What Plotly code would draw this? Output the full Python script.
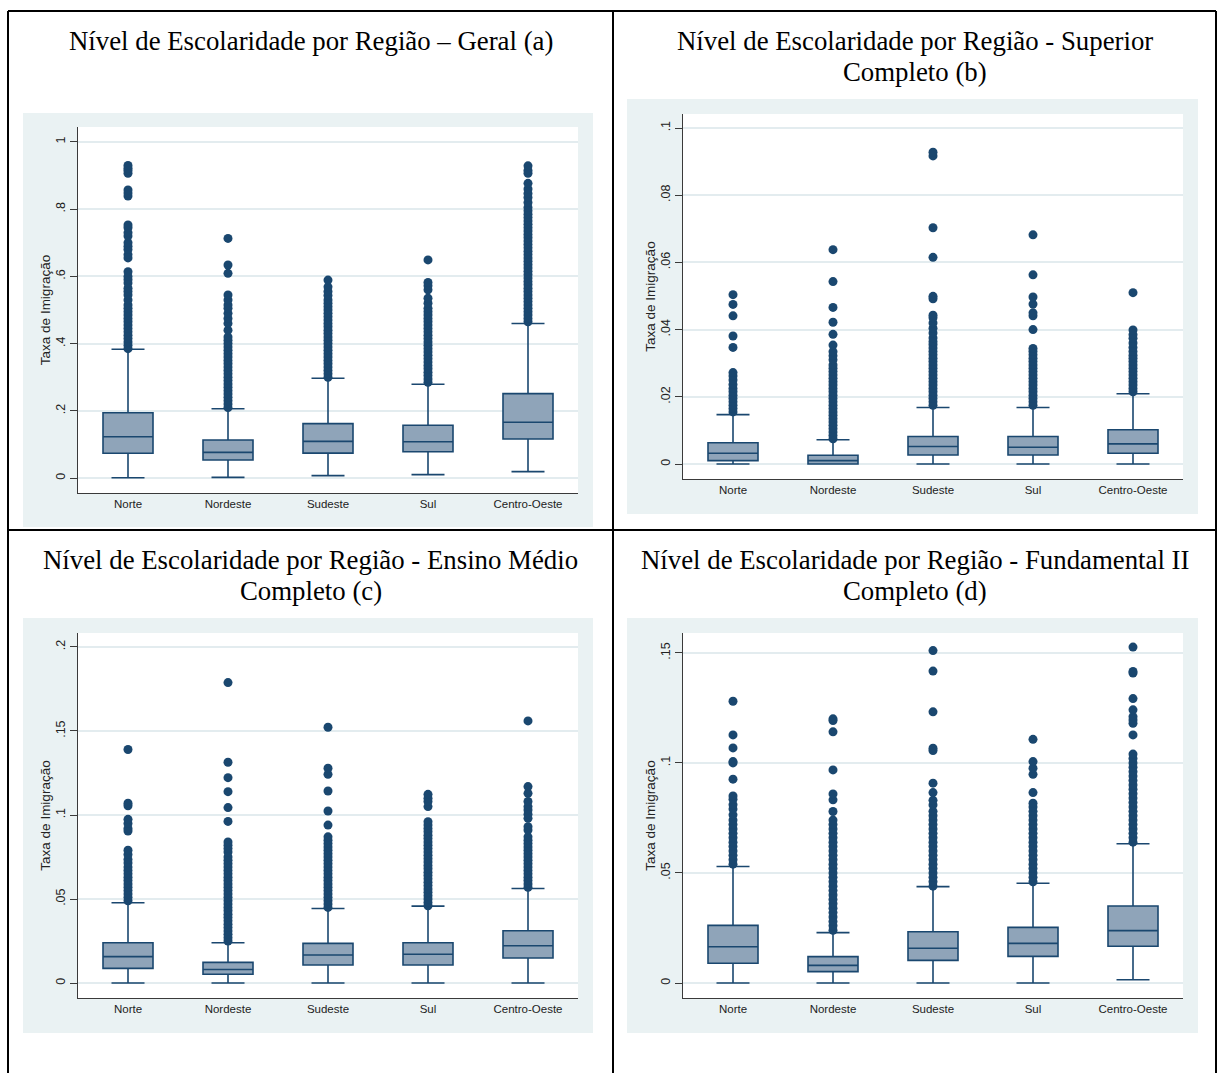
import plotly.graph_objects as go

W, H = 1218, 1073

regions = ["Norte", "Nordeste", "Sudeste", "Sul", "Centro-Oeste"]

# ---------------- Panel (a) Geral ----------------
a_lower = [0.001, 0.002, 0.007, 0.010, 0.019]
a_q1 = [0.0735, 0.0536, 0.074, 0.078, 0.116]
a_median = [0.123, 0.0764, 0.109, 0.108, 0.166]
a_q3 = [0.194, 0.113, 0.162, 0.157, 0.251]
a_upper = [0.383, 0.206, 0.297, 0.279, 0.460]
a_out_norte = [0.385, 0.395, 0.405, 0.415, 0.425, 0.435, 0.445, 0.455, 0.465, 0.475,
               0.485, 0.495, 0.505, 0.515, 0.53, 0.545, 0.555, 0.565, 0.58, 0.59,
               0.60, 0.614, 0.655, 0.665, 0.68, 0.69, 0.70, 0.72, 0.73, 0.745, 0.753,
               0.839, 0.848, 0.857, 0.907, 0.915, 0.922, 0.93]
a_out_nordeste = [0.21, 0.22, 0.23, 0.24, 0.25, 0.26, 0.27, 0.28, 0.29, 0.30, 0.31,
                  0.32, 0.33, 0.34, 0.35, 0.36, 0.37, 0.38, 0.39, 0.40, 0.41, 0.42,
                  0.44, 0.46, 0.475, 0.49, 0.505, 0.515, 0.53, 0.545, 0.609, 0.634, 0.713]
a_out_sudeste = [0.30, 0.31, 0.32, 0.33, 0.34, 0.35, 0.36, 0.37, 0.38, 0.39, 0.40,
                 0.41, 0.42, 0.43, 0.44, 0.45, 0.46, 0.47, 0.48, 0.49, 0.50, 0.51,
                 0.52, 0.53, 0.543, 0.555, 0.569, 0.589]
a_out_sul = [0.285, 0.295, 0.305, 0.315, 0.325, 0.335, 0.345, 0.355, 0.365, 0.375,
             0.385, 0.395, 0.405, 0.415, 0.425, 0.435, 0.445, 0.455, 0.465, 0.475,
             0.485, 0.495, 0.505, 0.52, 0.535, 0.56, 0.572, 0.582, 0.649]
a_out_co = [0.465, 0.475, 0.485, 0.495, 0.505, 0.515, 0.525, 0.535, 0.545, 0.555,
            0.565, 0.575, 0.585, 0.595, 0.605, 0.615, 0.625, 0.635, 0.645, 0.655,
            0.665, 0.675, 0.685, 0.695, 0.705, 0.715, 0.725, 0.735, 0.745, 0.755,
            0.765, 0.775, 0.785, 0.795, 0.805, 0.82, 0.835, 0.847, 0.86, 0.877,
            0.907, 0.915, 0.929]
a_outliers = [a_out_norte, a_out_nordeste, a_out_sudeste, a_out_sul, a_out_co]
a_tickvals = [0, 0.2, 0.4, 0.6, 0.8, 1.0]
a_ticktext = ["0", ".2", ".4", ".6", ".8", "1"]

# ---------------- Panel (b) Superior Completo ----------------
b_lower = [0.0, 0.0, 0.0, 0.0, 0.0]
b_q1 = [0.001, 0.0, 0.0027, 0.0027, 0.0032]
b_median = [0.0032, 0.001, 0.0052, 0.005, 0.006]
b_q3 = [0.00635, 0.0026, 0.0082, 0.0082, 0.0102]
b_upper = [0.0147, 0.0072, 0.0168, 0.0168, 0.0209]
b_out_norte = [0.0155, 0.0165, 0.0175, 0.0185, 0.0195, 0.0205, 0.0215, 0.0225,
               0.0237, 0.025, 0.0262, 0.0272, 0.0347, 0.0381, 0.0441, 0.0475, 0.0504]
b_out_nordeste = [0.0075, 0.0085, 0.0095, 0.0105, 0.0115, 0.0125, 0.0135, 0.0145,
                  0.0155, 0.0165, 0.0175, 0.0185, 0.0195, 0.0205, 0.0215, 0.0225,
                  0.0235, 0.0245, 0.0255, 0.0265, 0.0275, 0.0285, 0.0295, 0.031,
                  0.0322, 0.0334, 0.0354, 0.0386, 0.0422, 0.0466, 0.0543, 0.0638]
b_out_sudeste = [0.0175, 0.0185, 0.0195, 0.0205, 0.0215, 0.0225, 0.0235, 0.0245,
                 0.0255, 0.0265, 0.0275, 0.0285, 0.0295, 0.0305, 0.0315, 0.0325,
                 0.0335, 0.0345, 0.0355, 0.0364, 0.0375, 0.039, 0.0404, 0.042,
                 0.0435, 0.0443, 0.0492, 0.0499, 0.0615, 0.0703, 0.0917, 0.0928]
b_out_sul = [0.0175, 0.0185, 0.0195, 0.0205, 0.0215, 0.0225, 0.0235, 0.0245,
             0.0255, 0.0265, 0.0275, 0.0285, 0.0295, 0.0305, 0.0315, 0.0325,
             0.0335, 0.0344, 0.040, 0.0441, 0.045, 0.0476, 0.0497, 0.0563, 0.0682]
b_out_co = [0.0215, 0.0225, 0.0235, 0.0245, 0.0255, 0.0265, 0.0275, 0.0285,
            0.0295, 0.0305, 0.0315, 0.0324, 0.0335, 0.0347, 0.036, 0.0374,
            0.0385, 0.0399, 0.051]
b_outliers = [b_out_norte, b_out_nordeste, b_out_sudeste, b_out_sul, b_out_co]
b_tickvals = [0, 0.02, 0.04, 0.06, 0.08, 0.1]
b_ticktext = ["0", ".02", ".04", ".06", ".08", ".1"]

# ---------------- Panel (c) Ensino Medio Completo ----------------
c_lower = [0.0, 0.0, 0.0, 0.0, 0.0]
c_q1 = [0.0087, 0.0052, 0.0107, 0.0107, 0.0149]
c_median = [0.0157, 0.0081, 0.0167, 0.0171, 0.0222]
c_q3 = [0.024, 0.0123, 0.0236, 0.024, 0.0311]
c_upper = [0.0478, 0.024, 0.0444, 0.0458, 0.0563]
c_out_norte = [0.049, 0.051, 0.053, 0.055, 0.057, 0.059, 0.061, 0.063, 0.065, 0.067,
               0.069, 0.0715, 0.0735, 0.0765, 0.079, 0.0905, 0.092, 0.095, 0.0974,
               0.1055, 0.107, 0.139]
c_out_nordeste = [0.025, 0.027, 0.029, 0.031, 0.033, 0.035, 0.037, 0.039, 0.041,
                  0.043, 0.045, 0.047, 0.049, 0.051, 0.053, 0.055, 0.057, 0.059,
                  0.061, 0.063, 0.065, 0.067, 0.069, 0.071, 0.073, 0.075, 0.078,
                  0.080, 0.082, 0.084, 0.0962, 0.1044, 0.1139, 0.1222, 0.1314, 0.1788]
c_out_sudeste = [0.045, 0.047, 0.049, 0.051, 0.053, 0.055, 0.057, 0.059, 0.061,
                 0.063, 0.065, 0.067, 0.069, 0.071, 0.073, 0.075, 0.077, 0.079,
                 0.081, 0.083, 0.085, 0.087, 0.094, 0.1024, 0.1143, 0.1242, 0.1278,
                 0.1522]
c_out_sul = [0.046, 0.048, 0.050, 0.052, 0.054, 0.056, 0.058, 0.060, 0.062, 0.064,
             0.066, 0.068, 0.070, 0.072, 0.074, 0.076, 0.078, 0.080, 0.082, 0.084,
             0.086, 0.088, 0.090, 0.092, 0.094, 0.096, 0.105, 0.108, 0.110, 0.1123]
c_out_co = [0.057, 0.059, 0.061, 0.063, 0.065, 0.067, 0.069, 0.071, 0.073, 0.075,
            0.077, 0.079, 0.081, 0.083, 0.085, 0.087, 0.091, 0.093, 0.098, 0.1005,
            0.103, 0.105, 0.108, 0.1129, 0.1169, 0.156]
c_outliers = [c_out_norte, c_out_nordeste, c_out_sudeste, c_out_sul, c_out_co]
c_tickvals = [0, 0.05, 0.1, 0.15, 0.2]
c_ticktext = ["0", ".05", ".1", ".15", ".2"]

# ---------------- Panel (d) Fundamental II Completo ----------------
d_lower = [0.0, 0.0, 0.0, 0.0, 0.0015]
d_q1 = [0.009, 0.0052, 0.0103, 0.0121, 0.0167]
d_median = [0.0165, 0.008, 0.0158, 0.018, 0.0238]
d_q3 = [0.0262, 0.012, 0.0233, 0.0253, 0.035]
d_upper = [0.0529, 0.0229, 0.0438, 0.0453, 0.0633]
d_out_norte = [0.054, 0.056, 0.058, 0.060, 0.062, 0.064, 0.066, 0.068, 0.070, 0.072,
               0.074, 0.0764, 0.079, 0.081, 0.0835, 0.085, 0.0926, 0.1, 0.1006,
               0.1068, 0.1127, 0.128]
d_out_nordeste = [0.024, 0.026, 0.028, 0.030, 0.032, 0.034, 0.036, 0.038, 0.040,
                  0.042, 0.044, 0.046, 0.048, 0.050, 0.052, 0.054, 0.056, 0.058,
                  0.060, 0.062, 0.064, 0.066, 0.068, 0.070, 0.072, 0.074, 0.0779,
                  0.0832, 0.0859, 0.0968, 0.1141, 0.1192, 0.12]
d_out_sudeste = [0.044, 0.046, 0.048, 0.050, 0.052, 0.054, 0.056, 0.058, 0.060,
                 0.062, 0.064, 0.066, 0.068, 0.070, 0.072, 0.074, 0.076, 0.078,
                 0.0809, 0.083, 0.0865, 0.0908, 0.1056, 0.1067, 0.1232, 0.1417, 0.151]
d_out_sul = [0.046, 0.048, 0.050, 0.052, 0.054, 0.056, 0.058, 0.060, 0.062, 0.064,
             0.066, 0.068, 0.070, 0.072, 0.074, 0.076, 0.078, 0.080, 0.0817, 0.0865,
             0.0948, 0.0976, 0.1006, 0.1107]
d_out_co = [0.064, 0.066, 0.068, 0.070, 0.072, 0.074, 0.076, 0.078, 0.080, 0.082,
            0.084, 0.086, 0.088, 0.090, 0.092, 0.094, 0.096, 0.098, 0.100, 0.102,
            0.104, 0.1127, 0.118, 0.1195, 0.121, 0.1241, 0.1292, 0.1408, 0.1415,
            0.1526]
d_outliers = [d_out_norte, d_out_nordeste, d_out_sudeste, d_out_sul, d_out_co]
d_tickvals = [0, 0.05, 0.1, 0.15]
d_ticktext = ["0", ".05", ".1", ".15"]

titles = [
    ["Nível de Escolaridade por Região – Geral (a)"],
    ["Nível de Escolaridade por Região - Superior", "Completo (b)"],
    ["Nível de Escolaridade por Região - Ensino Médio", "Completo (c)"],
    ["Nível de Escolaridade por Região - Fundamental II", "Completo (d)"],
]
y_title = "Taxa de Imigração"

# ---------------- styling / layout geometry (pixels) ----------------
NAVY = "#1A476F"
BOXFILL = "#8FA4B9"
GRAPHBG = "#EAF2F3"
GRID = "#E3ECEF"
AXIS = "#3A3A3A"
SERIF = "Times New Roman, Liberation Serif, serif"
SANS = "Arial, Liberation Sans, sans-serif"

panels = [
    dict(stats=(a_lower, a_q1, a_median, a_q3, a_upper), out=a_outliers,
         tv=a_tickvals, tt=a_ticktext, yr=(-0.0446, 1.0446),
         plot=(78, 127, 578, 493), bg=(23, 113, 593, 527), tx=310.5, ty=[41]),
    dict(stats=(b_lower, b_q1, b_median, b_q3, b_upper), out=b_outliers,
         tv=b_tickvals, tt=b_ticktext, yr=(-0.00446, 0.10417),
         plot=(683, 114, 1183, 479), bg=(627, 99, 1198, 514), tx=915, ty=[41, 72]),
    dict(stats=(c_lower, c_q1, c_median, c_q3, c_upper), out=c_outliers,
         tv=c_tickvals, tt=c_ticktext, yr=(-0.0089, 0.2083),
         plot=(78, 633, 578, 998), bg=(23, 618, 593, 1033), tx=310.5, ty=[560, 591]),
    dict(stats=(d_lower, d_q1, d_median, d_q3, d_upper), out=d_outliers,
         tv=d_tickvals, tt=d_ticktext, yr=(-0.0068, 0.159),
         plot=(683, 633, 1183, 998), bg=(627, 618, 1198, 1033), tx=915, ty=[560, 591]),
]


def px(x):
    return x / W


def py(y):
    return 1 - y / H


fig = go.Figure()
shapes = []
annotations = []
layout = {}

for i, p in enumerate(panels):
    n = "" if i == 0 else str(i + 1)
    xa, ya = "x" + n, "y" + n
    lo, q1, med, q3, up = p["stats"]
    fig.add_trace(go.Box(
        x=regions, q1=q1, median=med, q3=q3, lowerfence=lo, upperfence=up,
        width=0.5, whiskerwidth=0.66, boxpoints=False,
        fillcolor=BOXFILL, line=dict(color=NAVY, width=1.6),
        xaxis=xa, yaxis=ya, showlegend=False, hoverinfo="skip",
    ))
    ox, oy = [], []
    for r, vals in zip(regions, p["out"]):
        ox += [r] * len(vals)
        oy += vals
    fig.add_trace(go.Scatter(
        x=ox, y=oy, mode="markers",
        marker=dict(color=NAVY, size=9, line=dict(width=0)),
        xaxis=xa, yaxis=ya, showlegend=False, hoverinfo="skip",
    ))
    x0, y0, x1, y1 = p["plot"]
    layout["xaxis" + n] = dict(
        domain=[px(x0), px(x1)], anchor=ya, type="category",
        categoryorder="array", categoryarray=regions,
        range=[-0.5, 4.5], showline=True, linecolor=AXIS, linewidth=1.3,
        showgrid=False, zeroline=False, ticks="",
        tickfont=dict(family=SANS, size=11.5, color="#222"),
    )
    layout["yaxis" + n] = dict(
        domain=[py(y1), py(y0)], anchor=xa, range=list(p["yr"]),
        tickmode="array", tickvals=p["tv"], ticktext=p["tt"], tickangle=-90,
        ticks="outside", ticklen=7, tickwidth=1.2, tickcolor=AXIS,
        showline=True, linecolor=AXIS, linewidth=1.3,
        showgrid=True, gridcolor=GRID, gridwidth=1.5, zeroline=False,
        tickfont=dict(family=SANS, size=12.5, color="#222"),
        title=dict(text=y_title, font=dict(family=SANS, size=13.5, color="#222"), standoff=0),
    )
    bx0, by0, bx1, by1 = p["bg"]
    shapes.append(dict(type="rect", xref="paper", yref="paper", layer="below",
                       x0=px(bx0), x1=px(bx1), y0=py(by1), y1=py(by0),
                       fillcolor=GRAPHBG, line=dict(width=0)))
    shapes.append(dict(type="rect", xref="paper", yref="paper", layer="below",
                       x0=px(x0), x1=px(x1), y0=py(y1), y1=py(y0),
                       fillcolor="white", line=dict(width=0)))
    for line_text, ty in zip(titles[i], p["ty"]):
        annotations.append(dict(text=line_text, xref="paper", yref="paper",
                                x=px(p["tx"]), y=py(ty), xanchor="center", yanchor="middle",
                                showarrow=False,
                                font=dict(family=SERIF, size=26.8, color="black")))

# table borders
for (lx0, ly0, lx1, ly1) in [(8, 11, 8, 1073), (613, 11, 613, 1073), (1216, 11, 1216, 1073),
                             (8, 11, 1216, 11), (8, 530, 1216, 530)]:
    shapes.append(dict(type="line", xref="paper", yref="paper", layer="above",
                       x0=px(lx0), x1=px(lx1), y0=py(ly0), y1=py(ly1),
                       line=dict(color="black", width=2)))

fig.update_layout(
    width=W, height=H, margin=dict(l=0, r=0, t=0, b=0),
    paper_bgcolor="white", plot_bgcolor="white",
    shapes=shapes, annotations=annotations, showlegend=False,
    **layout,
)

fig.write_html("out.html", config={"displayModeBar": False})
